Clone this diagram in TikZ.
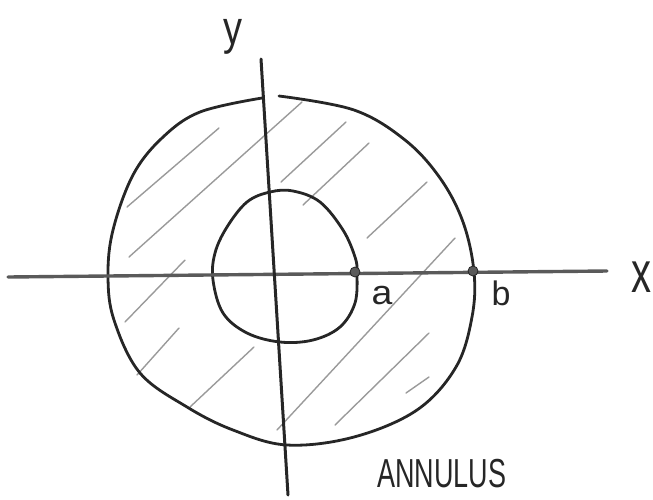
\documentclass[tikz,border=0pt]{standalone}
\usepackage{fontspec}
\usepackage{graphicx}
\setmainfont{Liberation Sans}
\definecolor{ink}{HTML}{262626}
\definecolor{axisgray}{HTML}{5A5A5A}
\definecolor{hatchgray}{HTML}{9A9A9A}
\tikzset{
  pen/.style={draw=ink, line width=2.8pt, line cap=round, line join=round},
  haxis/.style={draw=axisgray, line width=3.4pt, line cap=round},
  vaxis/.style={draw=ink, line width=3pt, line cap=round},
  hatch/.style={draw=hatchgray, line width=1.4pt, line cap=round},
  ptdot/.style={circle, fill=axisgray, draw=ink, line width=0.8pt, inner sep=0pt, minimum size=10pt},
  lbl/.style={text=ink, inner sep=0pt}
}
\begin{document}
\begin{tikzpicture}[x=1pt,y=-1pt]
\useasboundingbox (0,0) rectangle (653,499);
% hatching
\draw[hatch] (127,207) -- (219,128);
\draw[hatch] (129,257) -- (302,102);
\draw[hatch] (281,182) -- (346,122);
\draw[hatch] (303,205) -- (369,143);
\draw[hatch] (367,238) -- (427,182);
\draw[hatch] (125,322) -- (185,260);
\draw[hatch] (137,375) -- (179,328);
\draw[hatch] (190,407) -- (254,347);
\draw[hatch] (277,430) -- (455,238);
\draw[hatch] (335,425) -- (429,333);
\draw[hatch] (406,393) -- (429,377);
% outer circle (with small gap at top)
\draw[pen] plot[smooth, tension=0.6] coordinates {
 (279,96) (354,110) (405,140) (440,178) (463,222) (474,272) (472,317) (456,367)
 (417,410) (354,437) (287,445) (233,430) (187,407) (140,373) (114,320) (108,276)
 (113,230) (133,175) (162,138) (200,112) (262,98)};
% inner circle
\draw[pen] plot[smooth cycle, tension=0.6] coordinates {
 (270,192) (293,191) (320,202) (343,230) (355,257) (357,273) (355,303) (340,327)
 (313,340) (280,342) (247,333) (223,313) (213,280) (215,253) (227,227) (247,202)};
% axes
\coordinate (xl) at (8,277);
\coordinate (xr) at (607,271);
\coordinate (yt) at (261,59);
\coordinate (yb) at (288,495);
\draw[haxis] (xl) -- (xr);
\draw[vaxis] (yt) -- (yb);
% points a and b
\node[ptdot] (pa) at (355,272) {};
\node[ptdot] (pb) at (473,271) {};
% labels
\node[lbl] (ly) at (233,37) {\scalebox{1}[1.25]{\fontsize{38}{38}\selectfont y}};
\node[lbl] (lx) at (641,277) {\scalebox{1}[1.45]{\fontsize{40}{40}\selectfont x}};
\node[lbl] (la) at (382,296) {\scalebox{1.1}[1]{\fontsize{34}{34}\selectfont a}};
\node[lbl] (lb) at (501,293) {\fontsize{34}{34}\selectfont b};
\node[lbl] (ann) at (442,474) {\scalebox{1}[1.5]{\fontsize{27}{27}\selectfont ANNULUS}};
\end{tikzpicture}
\end{document}
